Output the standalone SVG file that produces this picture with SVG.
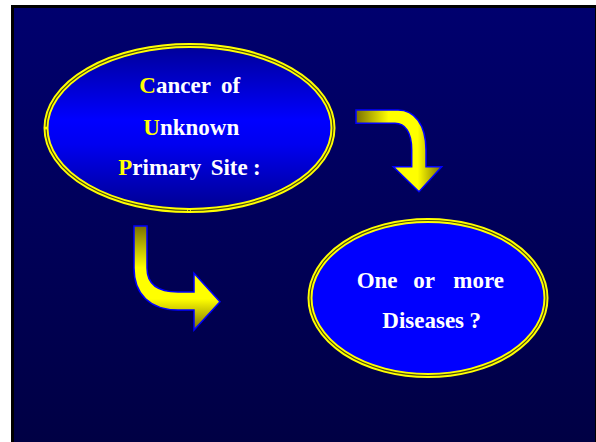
<svg xmlns="http://www.w3.org/2000/svg" width="596" height="442" viewBox="0 0 596 442">
<defs>
<linearGradient id="bg" x1="0" y1="0" x2="0" y2="1">
<stop offset="0" stop-color="#00006E"/>
<stop offset="1" stop-color="#000044"/>
</linearGradient>
<linearGradient id="e1fill" x1="0" y1="0" x2="0" y2="1">
<stop offset="0" stop-color="#000098"/>
<stop offset="0.45" stop-color="#0000FF"/>
<stop offset="0.6" stop-color="#0000F0"/>
<stop offset="1" stop-color="#000090"/>
</linearGradient>
<linearGradient id="a1fill" x1="0" y1="0" x2="1" y2="0">
<stop offset="0" stop-color="#7A7000"/>
<stop offset="0.38" stop-color="#FFFF00"/>
<stop offset="0.72" stop-color="#FFFF00"/>
<stop offset="1" stop-color="#7A7000"/>
</linearGradient>
<linearGradient id="a2fill" x1="0" y1="0" x2="0" y2="1">
<stop offset="0" stop-color="#7A7000"/>
<stop offset="0.4" stop-color="#FFFF00"/>
<stop offset="0.7" stop-color="#FFFF00"/>
<stop offset="1" stop-color="#7A7000"/>
</linearGradient>
</defs>
<style>
.ring{fill:none;stroke:#FFFF00;stroke-width:5}
.ringgap{fill:none;stroke:#4A4A10;stroke-width:1.2}
.t{font-family:"Liberation Serif","Times New Roman",serif;font-weight:bold;font-size:23px;fill:#FFFFFF}
.y{fill:#FFFF00}
.arrow{stroke:#0000FF;stroke-width:1.5;stroke-linejoin:miter}
</style>
<rect x="11" y="5" width="585" height="437" fill="#000000"/>
<rect x="14" y="8" width="581" height="434" fill="url(#bg)"/>
<g id="connectors">
<path class="arrow" fill="url(#a1fill)" d="M356,110 L398,110 C414,110 426,124 426,150 L426,166.7 L441.7,166.7 L419,191.7 L393.3,166.7 L411.7,166.7 L411.7,150 C411.7,132 405,123.3 395,123.3 L356,123.3 Z"/>
<path class="arrow" fill="url(#a2fill)" d="M134,226 L147,226 L147,268 C147,284 158,292 178,292 L194,292 L194,273.3 L220,301.7 L194,330 L194,310 L178,310 C150,310 134,294 134,268 Z"/>
</g>
<g id="node-cup">
<ellipse cx="189.5" cy="128" rx="143.5" ry="82.5" fill="url(#e1fill)"/>
<ellipse class="ring" cx="189.5" cy="128" rx="143.5" ry="82.5"/>
<ellipse class="ringgap" cx="189.5" cy="128" rx="143.5" ry="82.5"/>
<circle cx="46" cy="128" r="1.5" fill="#FFFF00"/>
<rect x="187.5" y="209" width="3" height="3" fill="none" stroke="#FFFF00" stroke-width="0.8"/>
<text class="t"><tspan x="139.3" y="92.7"><tspan class="y">C</tspan>ancer</tspan><tspan x="221" y="92.7">of</tspan></text>
<text class="t" x="143.3" y="135"><tspan class="y">U</tspan>nknown</text>
<text class="t"><tspan x="118.3" y="175"><tspan class="y">P</tspan>rimary</tspan><tspan x="210.7" y="175">Site</tspan><tspan x="253" y="175">:</tspan></text>
</g>
<g id="node-diseases">
<ellipse cx="428" cy="298" rx="118" ry="77.5" fill="#0000FF"/>
<ellipse class="ring" cx="428" cy="298" rx="118" ry="77.5"/>
<ellipse class="ringgap" cx="428" cy="298" rx="118" ry="77.5"/>
<text class="t"><tspan x="356.7" y="288">One</tspan><tspan x="413.3" y="288">or</tspan><tspan x="453.3" y="288">more</tspan></text>
<text class="t"><tspan x="382.3" y="327.7">Diseases</tspan><tspan x="469.5" y="327.7">?</tspan></text>
</g>
</svg>
